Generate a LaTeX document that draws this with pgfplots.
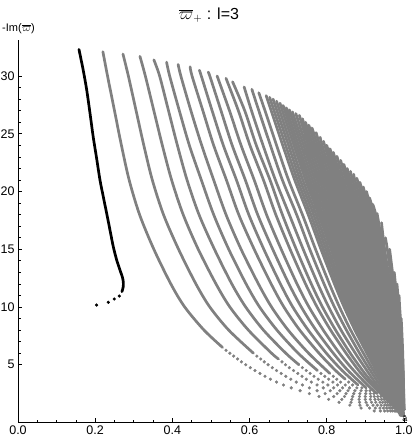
\documentclass[border=0pt]{standalone}
\usepackage{pgfplots}
\pgfplotsset{compat=1.18}
\usepackage{fontspec}
\setmainfont{Liberation Sans}
\definecolor{pg}{RGB}{128,128,128}
\pgfplotsset{
  gl/.style={color=pg, line width=2.7pt, line cap=round, line join=round, smooth, mark=none},
  gd/.style={only marks, mark=*, mark size=1.4pt, color=pg, mark options={draw=none, fill=pg}},
  bl/.style={color=black, line width=2.7pt, line cap=round, line join=round, smooth, mark=none},
  bd/.style={only marks, mark=*, mark size=1.4pt, color=black, mark options={draw=none, fill=black}},
}
\begin{document}
\begin{tikzpicture}
\begin{axis}[
    at={(0,0)}, anchor=south west,
    scale only axis, width=389pt, height=383pt,
    xmin=0, xmax=1.008, ymin=0, ymax=33.16,
    axis lines=left,
    axis line style={-, line width=0.6pt},
    tick align=inside,
    tick style={line width=0.6pt, black},
    major tick length=4pt, minor tick length=2.5pt,
    xtick={0,0.2,0.4,0.6,0.8,1.0}, minor x tick num=3,
    ytick={5,10,15,20,25,30}, minor y tick num=4,
    /pgf/number format/assume math mode=true,
    x tick label style={/pgf/number format/.cd, fixed, fixed zerofill, precision=1, /tikz/.cd, font=\fontsize{12.5}{14}\selectfont},
    y tick label style={font=\fontsize{12.5}{14}\selectfont},
    title={$\overline{\varpi}_{+}$ : l=3},
    title style={font=\fontsize{16}{18}\selectfont, at={(axis description cs:0.5,1)}, anchor=base, yshift=14.5pt, xshift=-3.5pt},
    ylabel={-Im($\overline{\varpi}$)},
    every axis y label/.style={at={(axis description cs:0,1)}, anchor=center, yshift=11pt, xshift=0.5pt, font=\fontsize{11}{12}\selectfont},
    xlabel={ā},
    every axis x label/.style={at={(axis description cs:1,0)}, anchor=center, yshift=3.5pt, xshift=-2pt, font=\fontsize{9}{10}\selectfont},
]
% black curve
\addplot[bl] coordinates {(0.158,32.3)(0.169,30.5)(0.178,28.8)(0.1865,26.8)(0.195,24.7)(0.2036,22.9)(0.2124,21.0)(0.221,19.55)(0.2298,18.1)(0.2383,16.67)(0.2469,15.22)(0.2557,14.07)(0.2642,13.2)(0.2702,12.62)(0.2728,12.19)(0.2728,11.76)(0.2694,11.33)};
\addplot[bd] coordinates {(0.2625,10.95)(0.2495,10.69)(0.234,10.41)(0.2036,10.17)};
% gray curves
\addplot[gl] coordinates {(0.22,32.1)(0.232,30)(0.25,27)(0.268,24)(0.288,21)(0.315,18)(0.352,15)(0.396,12)(0.432,10)(0.482,8)(0.530,6.5)};
\addplot[gd] coordinates {(0.539,6.25)(0.549,6)(0.559,5.75)(0.569,5.5)(0.579,5.25)(0.590,5)(0.602,4.75)(0.614,4.5)(0.627,4.25)(0.640,4)(0.654,3.75)(0.670,3.5)(0.688,3.25)(0.708,3)(0.731,2.75)(0.755,2.5)(0.780,2.25)(0.805,2)(0.832,1.75)(0.860,1.5)(0.889,1.25)(0.923,1.0)};
\addplot[gl] coordinates {(0.272,31.9)(0.286,30)(0.306,27)(0.326,24)(0.348,21)(0.377,18)(0.416,15)(0.461,12)(0.497,10)(0.546,8)(0.610,6)};
\addplot[gd] coordinates {(0.619,5.75)(0.629,5.5)(0.638,5.25)(0.648,5)(0.659,4.75)(0.670,4.5)(0.682,4.25)(0.694,4)(0.707,3.75)(0.721,3.5)(0.737,3.25)(0.755,3)(0.775,2.75)(0.796,2.5)(0.818,2.25)(0.839,2)(0.863,1.75)(0.886,1.5)(0.911,1.25)(0.939,1.0)};
\addplot[gl] coordinates {(0.316,31.7)(0.330,30)(0.352,27)(0.374,24)(0.398,21)(0.428,18)(0.467,15)(0.513,12)(0.549,10)(0.597,8)(0.657,6)(0.675,5.5)};
\addplot[gd] coordinates {(0.684,5.25)(0.693,5)(0.703,4.75)(0.714,4.5)(0.725,4.25)(0.736,4)(0.747,3.75)(0.760,3.5)(0.775,3.25)(0.791,3)(0.809,2.75)(0.827,2.5)(0.846,2.25)(0.865,2)(0.885,1.75)(0.905,1.5)(0.926,1.25)(0.950,1.0)};
\addplot[gl] coordinates {(0.352,31.4)(0.367,30)(0.390,27)(0.413,24)(0.438,21)(0.469,18)(0.509,15)(0.554,12)(0.590,10)(0.636,8)(0.694,6)(0.728,5)};
\addplot[gd] coordinates {(0.737,4.75)(0.747,4.5)(0.757,4.25)(0.767,4)(0.778,3.75)(0.790,3.5)(0.803,3.25)(0.818,3)(0.834,2.75)(0.850,2.5)(0.867,2.25)(0.884,2)(0.902,1.75)(0.920,1.5)(0.938,1.25)(0.958,1.0)};
\addplot[gl] coordinates {(0.385,31.2)(0.393,30)(0.418,27)(0.444,24)(0.475,21)(0.507,18)(0.546,15)(0.591,12)(0.626,10)(0.671,8)(0.726,6)(0.776,4.5)};
\addplot[gd] coordinates {(0.785,4.25)(0.795,4)(0.805,3.75)(0.816,3.5)(0.828,3.25)(0.841,3)(0.855,2.75)(0.870,2.5)(0.885,2.25)(0.900,2)(0.916,1.75)(0.931,1.5)(0.947,1.25)(0.965,1.0)};
\addplot[gl] coordinates {(0.415,31.0)(0.422,30)(0.448,27)(0.476,24)(0.507,21)(0.539,18)(0.578,15)(0.623,12)(0.657,10)(0.700,8)(0.753,6)(0.808,4.25)};
\addplot[gd] coordinates {(0.817,4)(0.826,3.75)(0.836,3.5)(0.848,3.25)(0.859,3)(0.873,2.75)(0.886,2.5)(0.900,2.25)(0.913,2)(0.927,1.75)(0.941,1.5)(0.955,1.25)(0.970,1.0)};
\addplot[gl] coordinates {(0.446,30.8)(0.451,30)(0.479,27)(0.507,24)(0.540,21)(0.572,18)(0.612,15)(0.656,12)(0.689,10)(0.730,8)(0.780,6)(0.823,4.5)(0.848,3.75)};
\addplot[gd] coordinates {(0.857,3.5)(0.867,3.25)(0.878,3)(0.889,2.75)(0.901,2.5)(0.914,2.25)(0.925,2)(0.938,1.75)(0.950,1.5)(0.962,1.25)(0.975,1.0)};
\addplot[gl] coordinates {(0.470,30.5)(0.475,30)(0.503,27)(0.532,24)(0.566,21)(0.598,18)(0.637,15)(0.680,12)(0.712,10)(0.752,8)(0.799,6)(0.840,4.5)(0.881,3.25)};
\addplot[gd] coordinates {(0.891,3)(0.902,2.75)(0.913,2.5)(0.923,2.25)(0.934,2)(0.945,1.75)(0.956,1.5)(0.967,1.25)(0.978,1.0)};
\addplot[gl] coordinates {(0.493,30.3)(0.497,30)(0.526,27)(0.555,24)(0.589,21)(0.621,18)(0.660,15)(0.702,12)(0.734,10)(0.772,8)(0.817,6)(0.855,4.5)(0.902,3)};
\addplot[gd] coordinates {(0.912,2.75)(0.922,2.5)(0.932,2.25)(0.942,2)(0.952,1.75)(0.961,1.5)(0.971,1.25)(0.981,1.0)};
\addplot[gl] coordinates {(0.516,30.0)(0.548,27)(0.578,24)(0.612,21)(0.644,18)(0.682,15)(0.723,12)(0.754,10)(0.791,8)(0.833,6)(0.870,4.5)(0.913,3)(0.931,2.5)};
\addplot[gd] coordinates {(0.940,2.25)(0.949,2)(0.958,1.75)(0.966,1.5)(0.975,1.25)(0.984,1.0)};
\addplot[gl] coordinates {(0.539,29.8)(0.571,27)(0.601,24)(0.636,21)(0.668,18)(0.705,15)(0.745,12)(0.775,10)(0.810,8)(0.850,6)(0.883,4.5)(0.909,3.5)(0.940,2.5)(0.961,1.8)(0.983,1.1)(0.991,0.6)};
\addplot[gl] coordinates {(0.556,29.5)(0.5875,27)(0.6175,24)(0.653,21)(0.685,18)(0.721,15)(0.760,12)(0.789,10)(0.823,8)(0.861,6)(0.893,4.5)(0.917,3.5)(0.945,2.5)(0.965,1.8)(0.985,1.1)(0.993,0.6)};
\addplot[gl] coordinates {(0.586,29.05)(0.605,27)(0.635,24)(0.667,21)(0.703,18)(0.739,15)(0.777,12)(0.805,10)(0.837,8)(0.874,6)(0.904,4.5)(0.925,3.5)(0.951,2.5)(0.970,1.8)(0.987,1.1)(0.995,0.6)};
\addplot[gl] coordinates {(0.606,28.85)(0.624,27)(0.654,24)(0.685,21)(0.722,18)(0.756,15)(0.793,12)(0.820,10)(0.851,8)(0.885,6)(0.913,4.5)(0.933,3.5)(0.957,2.5)(0.973,1.8)(0.989,1.1)(0.996,0.6)};
\addplot[gl] coordinates {(0.624,28.55)(0.640,27)(0.670,24)(0.701,21)(0.737,18)(0.771,15)(0.807,12)(0.833,10)(0.862,8)(0.895,6)(0.921,4.5)(0.940,3.5)(0.961,2.5)(0.976,1.8)(0.990,1.1)(0.997,0.6)};
\addplot[gl] coordinates {(0.643,28.3)(0.656,27)(0.686,24)(0.717,21)(0.752,18)(0.785,15)(0.820,12)(0.845,10)(0.873,8)(0.904,6)(0.928,4.5)(0.946,3.5)(0.966,2.5)(0.979,1.8)(0.992,1.1)(0.998,0.6)};
\addplot[gl] coordinates {(0.652,28.15)(0.6635,27)(0.6935,24)(0.724,21)(0.759,18)(0.7915,15)(0.826,12)(0.8505,10)(0.878,8)(0.908,6)(0.9315,4.5)(0.9485,3.5)(0.9675,2.5)(0.980,1.8)(0.9925,1.1)(0.9985,0.6)};
\addplot[gl] coordinates {(0.661,28.0)(0.671,27)(0.701,24)(0.731,21)(0.766,18)(0.798,15)(0.832,12)(0.856,10)(0.883,8)(0.912,6)(0.935,4.5)(0.951,3.5)(0.969,2.5)(0.981,1.8)(0.993,1.1)(0.999,0.6)};
\addplot[gl] coordinates {(0.670,27.82)(0.678,27)(0.708,24)(0.738,21)(0.7725,18)(0.8045,15)(0.8375,12)(0.861,10)(0.8875,8)(0.9155,6)(0.938,4.5)(0.9535,3.5)(0.971,2.5)(0.9825,1.8)(0.9935,1.1)(0.999,0.6)};
\addplot[gl] coordinates {(0.679,27.65)(0.685,27)(0.715,24)(0.745,21)(0.779,18)(0.811,15)(0.843,12)(0.866,10)(0.892,8)(0.919,6)(0.941,4.5)(0.956,3.5)(0.973,2.5)(0.984,1.8)(0.994,1.1)(0.999,0.6)};
\addplot[gl] coordinates {(0.687,27.45)(0.721,24)(0.751,21)(0.7845,18)(0.816,15)(0.848,12)(0.8705,10)(0.8955,8)(0.922,6)(0.9435,4.5)(0.958,3.5)(0.974,2.5)(0.9845,1.8)(0.994,1.1)(0.999,0.6)};
\addplot[gl] coordinates {(0.695,27.25)(0.727,24)(0.757,21)(0.790,18)(0.821,15)(0.853,12)(0.875,10)(0.899,8)(0.925,6)(0.946,4.5)(0.960,3.5)(0.975,2.5)(0.985,1.8)(0.994,1.1)(0.999,0.6)};
\addplot[gl] coordinates {(0.703,27.08)(0.7335,24)(0.763,21)(0.796,18)(0.8265,15)(0.858,12)(0.8795,10)(0.903,8)(0.9285,6)(0.9485,4.5)(0.962,3.5)(0.9765,2.5)(0.986,1.8)(0.9945,1.1)(0.999,0.6)};
\addplot[gl] coordinates {(0.711,26.9)(0.740,24)(0.769,21)(0.802,18)(0.832,15)(0.863,12)(0.884,10)(0.907,8)(0.932,6)(0.951,4.5)(0.964,3.5)(0.978,2.5)(0.987,1.8)(0.995,1.1)(0.999,0.6)};
\addplot[gl] coordinates {(0.720,26.75)(0.746,24)(0.775,21)(0.8075,18)(0.837,15)(0.8675,12)(0.888,10)(0.9105,8)(0.9345,6)(0.953,4.5)(0.9655,3.5)(0.979,2.5)(0.9875,1.8)(0.9955,1.1)(0.999,0.6)};
\addplot[gl] coordinates {(0.729,26.6)(0.752,24)(0.781,21)(0.813,18)(0.842,15)(0.872,12)(0.892,10)(0.914,8)(0.937,6)(0.955,4.5)(0.967,3.5)(0.980,2.5)(0.988,1.8)(0.996,1.1)(0.999,0.6)};
\addplot[gl] coordinates {(0.737,26.3)(0.758,24)(0.787,21)(0.8185,18)(0.847,15)(0.876,12)(0.896,10)(0.9175,8)(0.940,6)(0.957,4.5)(0.9685,3.5)(0.981,2.5)(0.989,1.8)(0.996,1.1)(0.999,0.6)};
\addplot[gl] coordinates {(0.745,26.0)(0.764,24)(0.793,21)(0.824,18)(0.852,15)(0.880,12)(0.900,10)(0.921,8)(0.943,6)(0.959,4.5)(0.970,3.5)(0.982,2.5)(0.990,1.8)(0.996,1.1)(0.999,0.6)};
\addplot[gl] coordinates {(0.7535,25.75)(0.770,24)(0.7985,21)(0.8295,18)(0.857,15)(0.8845,12)(0.904,10)(0.9245,8)(0.9455,6)(0.9615,4.5)(0.972,3.5)(0.983,2.5)(0.9905,1.8)(0.9965,1.1)(0.999,0.6)};
\addplot[gl] coordinates {(0.762,25.5)(0.776,24)(0.804,21)(0.835,18)(0.862,15)(0.889,12)(0.908,10)(0.928,8)(0.948,6)(0.964,4.5)(0.974,3.5)(0.984,2.5)(0.991,1.8)(0.997,1.1)(0.999,0.6)};
\addplot[gl] coordinates {(0.7725,25.1)(0.782,24)(0.810,21)(0.840,18)(0.8665,15)(0.893,12)(0.9115,10)(0.931,8)(0.9505,6)(0.9655,4.5)(0.975,3.5)(0.985,2.5)(0.9915,1.8)(0.997,1.1)};
\addplot[gl] coordinates {(0.783,24.7)(0.788,24)(0.816,21)(0.845,18)(0.871,15)(0.897,12)(0.915,10)(0.934,8)(0.953,6)(0.967,4.5)(0.976,3.5)(0.986,2.5)(0.992,1.8)(0.997,1.1)};
\addplot[gl] coordinates {(0.7915,24.35)(0.8215,21)(0.8505,18)(0.876,15)(0.9015,12)(0.919,10)(0.937,8)(0.9555,6)(0.969,4.5)(0.9775,3.5)(0.987,2.5)(0.9925,1.8)(0.9975,1.1)};
\addplot[gl] coordinates {(0.800,24.0)(0.827,21)(0.856,18)(0.881,15)(0.906,12)(0.923,10)(0.940,8)(0.958,6)(0.971,4.5)(0.979,3.5)(0.988,2.5)(0.993,1.8)(0.998,1.1)};
\addplot[gl] coordinates {(0.8085,23.7)(0.8325,21)(0.861,18)(0.8855,15)(0.910,12)(0.926,10)(0.943,8)(0.960,6)(0.9725,4.5)(0.9805,3.5)(0.989,2.5)(0.9935,1.8)(0.998,1.1)};
\addplot[gl] coordinates {(0.817,23.4)(0.838,21)(0.866,18)(0.890,15)(0.914,12)(0.929,10)(0.946,8)(0.962,6)(0.974,4.5)(0.982,3.5)(0.990,2.5)(0.994,1.8)(0.998,1.1)};
\addplot[gl] coordinates {(0.8265,23.05)(0.844,21)(0.8715,18)(0.895,15)(0.918,12)(0.933,10)(0.949,8)(0.9645,6)(0.976,4.5)(0.983,3.5)(0.9905,2.5)(0.9945,1.8)(0.998,1.1)};
\addplot[gl] coordinates {(0.836,22.7)(0.850,21)(0.877,18)(0.900,15)(0.922,12)(0.937,10)(0.952,8)(0.967,6)(0.978,4.5)(0.984,3.5)(0.991,2.5)(0.995,1.8)(0.998,1.1)};
\addplot[gl] coordinates {(0.8445,22.35)(0.8555,21)(0.882,18)(0.9045,15)(0.926,12)(0.940,10)(0.9545,8)(0.969,6)(0.9795,4.5)(0.9855,3.5)(0.9915,2.5)(0.9955,1.8)(0.9985,1.1)};
\addplot[gl] coordinates {(0.853,22.0)(0.861,21)(0.887,18)(0.909,15)(0.930,12)(0.943,10)(0.957,8)(0.971,6)(0.981,4.5)(0.987,3.5)(0.992,2.5)(0.996,1.8)(0.999,1.1)};
\addplot[gl] coordinates {(0.8615,21.75)(0.867,21)(0.8925,18)(0.9135,15)(0.9335,12)(0.9465,10)(0.960,8)(0.973,6)(0.982,4.5)(0.988,3.5)(0.993,2.5)(0.9965,1.8)(0.999,1.1)};
\addplot[gl] coordinates {(0.870,21.5)(0.873,21)(0.898,18)(0.918,15)(0.937,12)(0.950,10)(0.963,8)(0.975,6)(0.983,4.5)(0.989,3.5)(0.994,2.5)(0.997,1.8)(0.999,1.1)};
\addplot[gl] coordinates {(0.878,21.15)(0.903,18)(0.922,15)(0.9405,12)(0.953,10)(0.9655,8)(0.977,6)(0.9845,4.5)(0.990,3.5)(0.9945,2.5)(0.997,1.8)(0.999,1.1)};
\addplot[gl] coordinates {(0.886,20.8)(0.908,18)(0.926,15)(0.944,12)(0.956,10)(0.968,8)(0.979,6)(0.986,4.5)(0.991,3.5)(0.995,2.5)(0.997,1.8)(0.999,1.1)};
\addplot[gl] coordinates {(0.8945,20.4)(0.913,18)(0.9305,15)(0.948,12)(0.959,10)(0.970,8)(0.9805,6)(0.987,4.5)(0.9915,3.5)(0.9955,2.5)(0.9975,1.8)(0.999,1.1)};
\addplot[gl] coordinates {(0.903,20.0)(0.918,18)(0.935,15)(0.952,12)(0.962,10)(0.972,8)(0.982,6)(0.988,4.5)(0.992,3.5)(0.996,2.5)(0.998,1.8)(0.999,1.1)};
\addplot[gl] coordinates {(0.911,19.45)(0.9225,18)(0.939,15)(0.955,12)(0.9645,10)(0.974,8)(0.9835,6)(0.989,4.5)(0.993,3.5)(0.9965,2.5)(0.998,1.8)(0.9995,1.1)};
\addplot[gl] coordinates {(0.919,18.9)(0.927,18)(0.943,15)(0.958,12)(0.967,10)(0.976,8)(0.985,6)(0.990,4.5)(0.994,3.5)(0.997,2.5)(0.998,1.8)(1.0,1.1)};
\addplot[gl] coordinates {(0.9305,18.1)(0.9465,15)(0.961,12)(0.9695,10)(0.978,8)(0.9865,6)(0.991,4.5)(0.9945,3.5)(0.997,2.5)(0.9985,1.8)(1.0,1.1)};
\addplot[gl] coordinates {(0.942,17.3)(0.950,15)(0.964,12)(0.972,10)(0.980,8)(0.988,6)(0.992,4.5)(0.995,3.5)(0.997,2.5)(0.999,1.8)(1.0,1.1)};
\addplot[gl] coordinates {(0.952,16.0)(0.957,15)(0.969,12)(0.976,10)(0.983,8)(0.990,6)(0.994,4.5)(0.996,3.5)(0.998,2.5)(0.999,1.8)(1.0,1.1)};
\addplot[gl] coordinates {(0.963,15.0)(0.974,12)(0.980,10)(0.986,8)(0.992,6)(0.995,4.5)(0.997,3.5)(0.998,2.5)(0.999,1.8)(1.0,1.1)};
\addplot[gl] coordinates {(0.975,13.0)(0.978,12)(0.984,10)(0.989,8)(0.993,6)(0.996,4.5)(0.998,3.5)(0.999,2.5)(1.0,1.1)};
\addplot[gl] coordinates {(0.982,12.0)(0.987,10)(0.991,8)(0.995,6)(0.997,4.5)(0.998,3.5)(0.999,2.5)(1.0,1.1)};
\addplot[gl] coordinates {(0.9875,11.0)(0.989,10)(0.993,8)(0.996,6)(0.998,4.5)(0.9986,3.5)(0.9993,2.5)(1.0,1.1)};
\addplot[gl] coordinates {(0.993,9.0)(0.9945,8)(0.997,6)(0.998,4.5)(0.999,3.5)(0.9995,2.5)(1.0,1.1)};
\end{axis}
\pgfresetboundingbox
\path[use as bounding box] (-18pt,-14.5pt) rectangle (397pt,422.5pt);
\end{tikzpicture}
\end{document}
